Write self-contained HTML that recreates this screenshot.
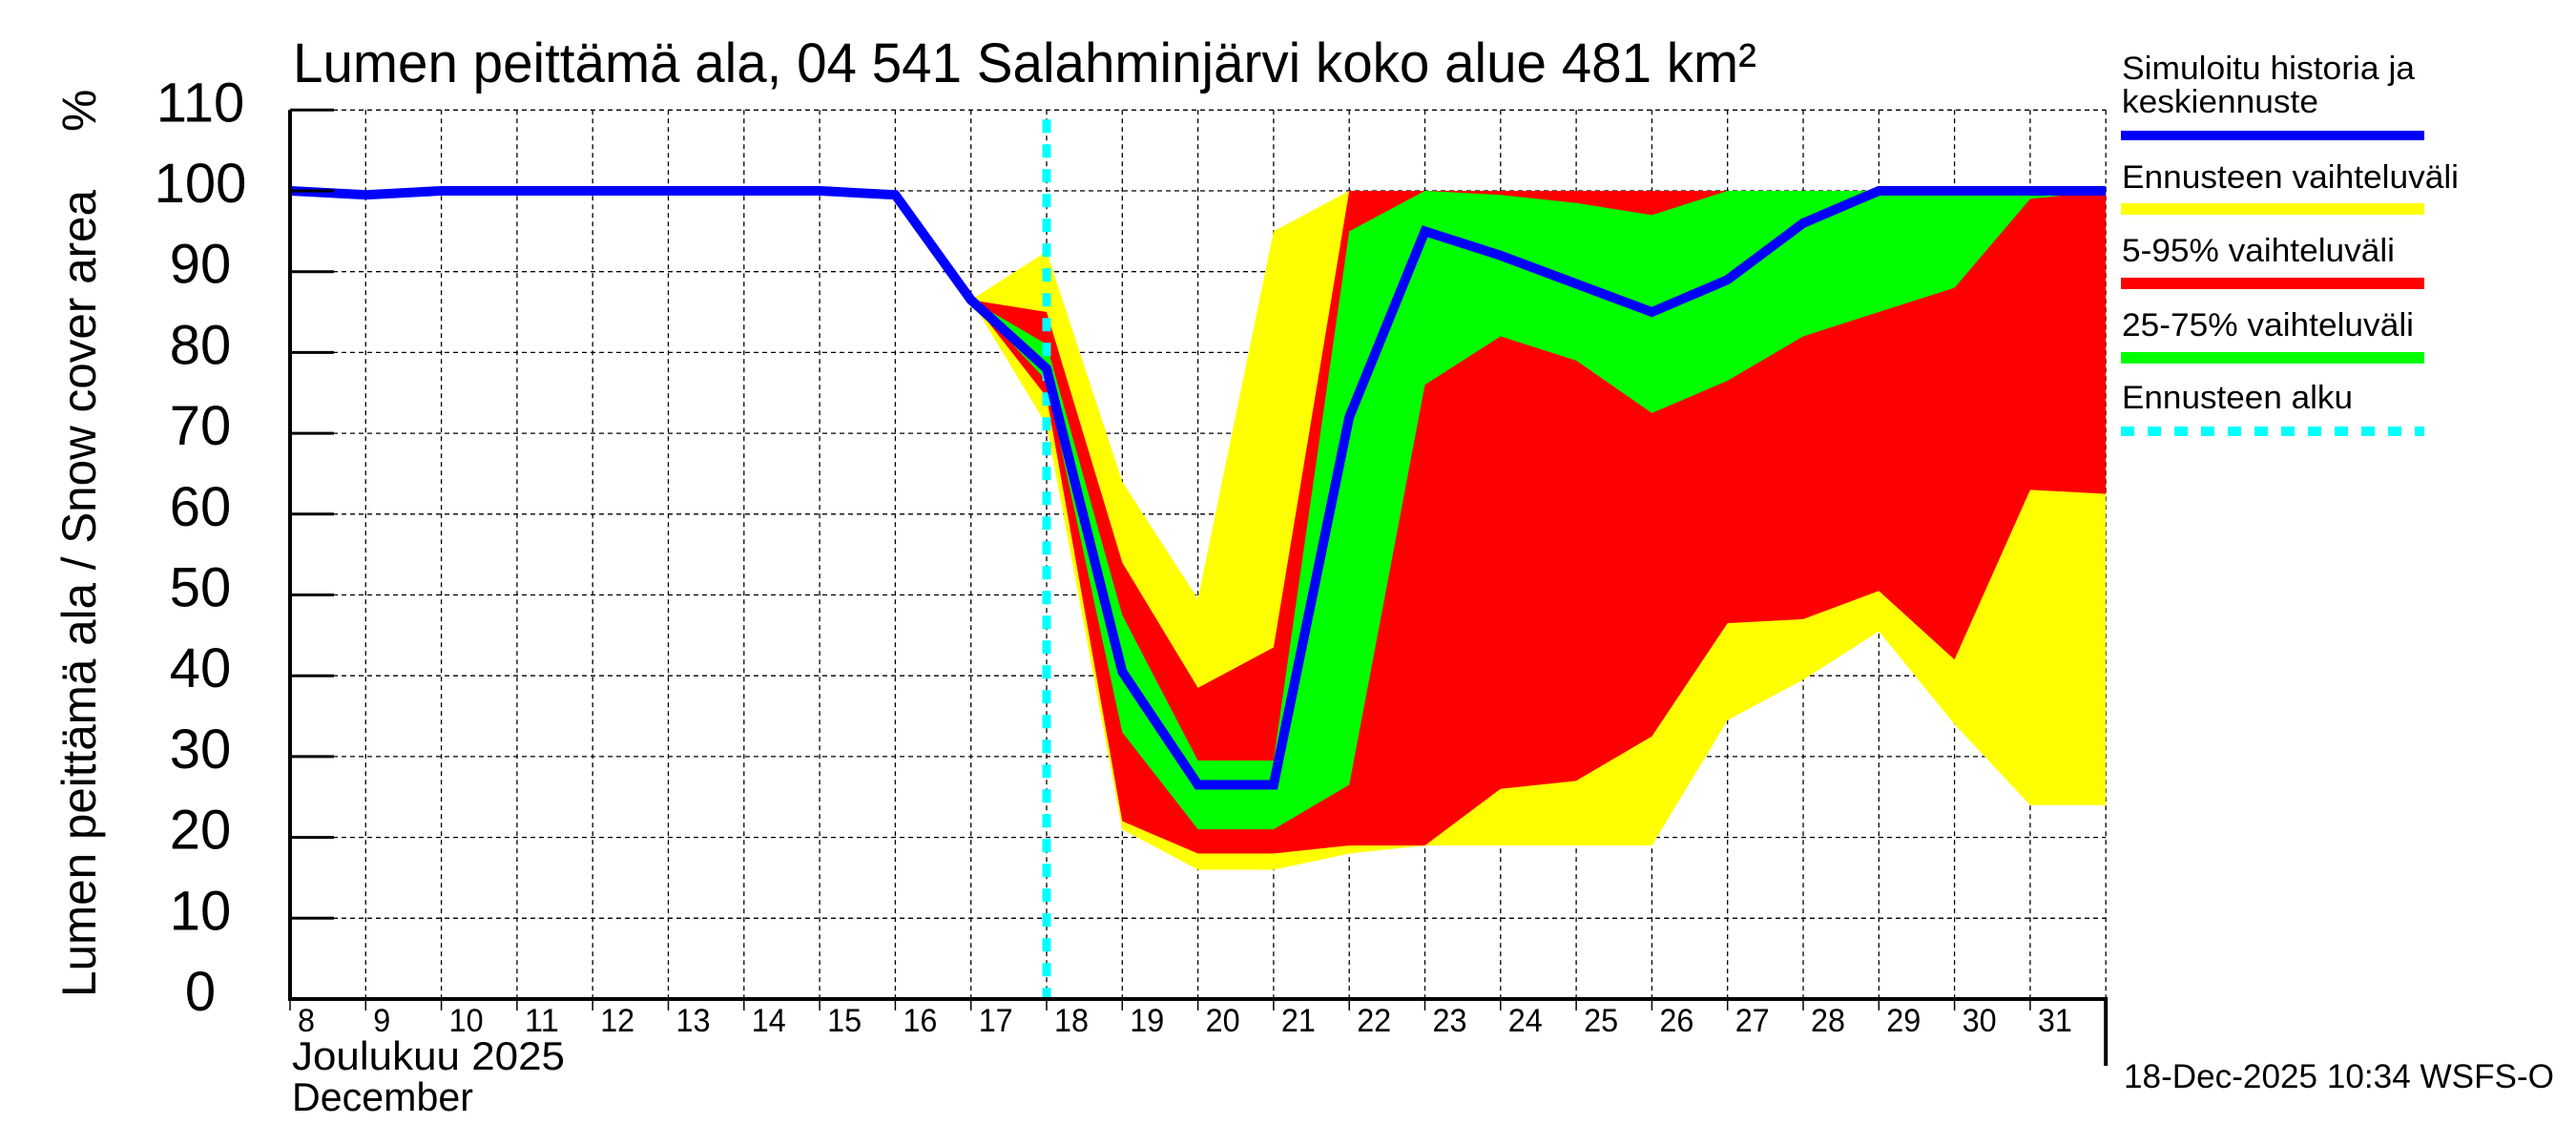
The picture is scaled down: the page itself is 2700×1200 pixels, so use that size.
<!DOCTYPE html>
<html><head><meta charset="utf-8"><style>
html,body{margin:0;padding:0;background:#fff;}
svg{display:block;font-family:"Liberation Sans",sans-serif;}
</style></head><body>
<svg id="chart" width="2700" height="1200" viewBox="0 0 2700 1200" xmlns="http://www.w3.org/2000/svg">
<g id="grid"></g>
<g id="bands"></g>
<g id="series"></g>
<g id="axes"></g>
<text x="307" y="86" font-size="58" textLength="1534" lengthAdjust="spacingAndGlyphs">Lumen peittämä ala, 04 541 Salahminjärvi koko alue 481 km²</text>
<text transform="translate(100,1045) rotate(-90)" font-size="50" textLength="846" lengthAdjust="spacingAndGlyphs">Lumen peittämä ala / Snow cover area</text>
<text transform="translate(100,138) rotate(-90)" font-size="50">%</text>
<text x="306" y="1121" font-size="42" textLength="286" lengthAdjust="spacingAndGlyphs">Joulukuu  2025</text>
<text x="306" y="1164" font-size="42" textLength="190" lengthAdjust="spacingAndGlyphs">December</text>
<g>
<text x="2224" y="83" font-size="34" textLength="307" lengthAdjust="spacingAndGlyphs">Simuloitu historia ja</text>
<text x="2224" y="118" font-size="34" textLength="206" lengthAdjust="spacingAndGlyphs">keskiennuste</text>
<line x1="2223" y1="142" x2="2541" y2="142" stroke="#0000ff" stroke-width="10"/>
<text x="2224" y="197" font-size="34" textLength="353" lengthAdjust="spacingAndGlyphs">Ennusteen vaihteluväli</text>
<line x1="2223" y1="219" x2="2541" y2="219" stroke="#ffff00" stroke-width="12"/>
<text x="2224" y="274" font-size="34" textLength="286" lengthAdjust="spacingAndGlyphs">5-95% vaihteluväli</text>
<line x1="2223" y1="297" x2="2541" y2="297" stroke="#ff0000" stroke-width="12"/>
<text x="2224" y="352" font-size="34" textLength="306" lengthAdjust="spacingAndGlyphs">25-75% vaihteluväli</text>
<line x1="2223" y1="375" x2="2541" y2="375" stroke="#00ff00" stroke-width="12"/>
<text x="2224" y="428" font-size="34" textLength="242" lengthAdjust="spacingAndGlyphs">Ennusteen alku</text>
<line x1="2223" y1="452" x2="2541" y2="452" stroke="#00ffff" stroke-width="10" stroke-dasharray="14,14"/>
</g>
<text x="2226" y="1140" font-size="35" textLength="451" lengthAdjust="spacingAndGlyphs">18-Dec-2025 10:34 WSFS-O</text>
</svg>
<script>
const days = [8,9,10,11,12,13,14,15,16,17,18,19,20,21,22,23,24,25,26,27,28,29,30,31,32];
const yTicks = [0,10,20,30,40,50,60,70,80,90,100,110];
const forecastStartDay = 18;
const fcDays = [17,18,19,20,21,22,23,24,25,26,27,28,29,30,31,32];
const median = [100,99.5,100,100,100,100,100,100,99.5,86.5,78,40.5,26.5,26.5,72,95,92,88.5,85,89,96,100,100,100,100];
const rangeMax = [86.5,92.5,64,49.5,95,100,100,100,100,100,100,100,100,100,100,100];
const rangeMin = [86.5,71,21,16,16,18,19,19,19,19,34.5,39.5,45.5,34,24,24];
const p95 = [86.5,85,54,38.5,43.5,100,100,100,100,100,100,100,100,100,100,100];
const p5 = [86.5,74.5,22,18,18,19,19,26,27,32.5,46.5,47,50.5,42,63,62.5];
const p75 = [86.5,81,47.5,29.5,29.5,95,100,99.5,98.5,97,100,100,100,100,100,100];
const p25 = [86.5,76.5,33,21,21,26.5,76,82,79,72.5,76.5,82,85,88,99,100];

const X0=304, DX=79.3, Y0=1047, DY=84.7;
const xs = d => X0 + (d-8)*DX;
const ys = v => Y0 - v/10*DY;
const NS="http://www.w3.org/2000/svg";
function mk(tag, parent, attrs){const e=document.createElementNS(NS,tag);for(const k in attrs)e.setAttribute(k,attrs[k]);parent.appendChild(e);return e;}
const grid=document.getElementById('grid'), bands=document.getElementById('bands'), series=document.getElementById('series'), axes=document.getElementById('axes');
const XR = xs(days[days.length-1]);

yTicks.forEach(t=>{
  if(t>0){const l=mk('line',grid,{x1:X0,x2:XR,y1:ys(t),y2:ys(t),stroke:'#000','stroke-width':1.3,'stroke-dasharray':'5,4'});
  
  }
  const tk=mk('line',axes,{x1:X0,x2:X0+46,y1:ys(t),y2:ys(t),stroke:'#000','stroke-width':3});
  
  
  const tx=mk('text',axes,{x:210,y:ys(t)+12,'font-size':58,'text-anchor':'middle'});
  tx.textContent=t;
  
  
});
days.forEach((d,i)=>{
  if(i>0){const l=mk('line',grid,{x1:xs(d),x2:xs(d),y1:ys(110),y2:Y0,stroke:'#000','stroke-width':1.3,'stroke-dasharray':'5,4'});
  
  }
  const tk=mk('line',axes,{x1:xs(d),x2:xs(d),y1:Y0,y2:Y0+12,stroke:'#000','stroke-width':1.5});
  
  
  if(d<32){const tx=mk('text',axes,{x:xs(d)+8,y:1081,'font-size':34,textLength:(d<10?18:36),lengthAdjust:'spacingAndGlyphs'});
  tx.textContent=d;
  
  }
});
function band(hi,lo,color,name){
  let pts=fcDays.map((d,i)=>xs(d)+','+ys(hi[i]));
  for(let i=fcDays.length-1;i>=0;i--)pts.push(xs(fcDays[i])+','+ys(lo[i]));
  const p=mk('polygon',bands,{points:pts.join(' '),fill:color});
  
  
}
band(rangeMax,rangeMin,'#ffff00','range-band');
band(p95,p5,'#ff0000','p5-95-band');
band(p75,p25,'#00ff00','p25-75-band');
const fl=mk('line',series,{x1:xs(forecastStartDay),x2:xs(forecastStartDay),y1:ys(110)+10,y2:Y0,stroke:'#00ffff','stroke-width':9,'stroke-dasharray':'14,12'});


const ml=mk('polyline',series,{points:days.map((d,i)=>xs(d)+','+ys(median[i])).join(' '),fill:'none',stroke:'#0000ff','stroke-width':10,'stroke-linejoin':'miter'});


const ax=mk('path',axes,{d:`M${X0},${ys(110)} V${Y0} H${XR} V1117`,fill:'none',stroke:'#000','stroke-width':4});


</script>
</body></html>
